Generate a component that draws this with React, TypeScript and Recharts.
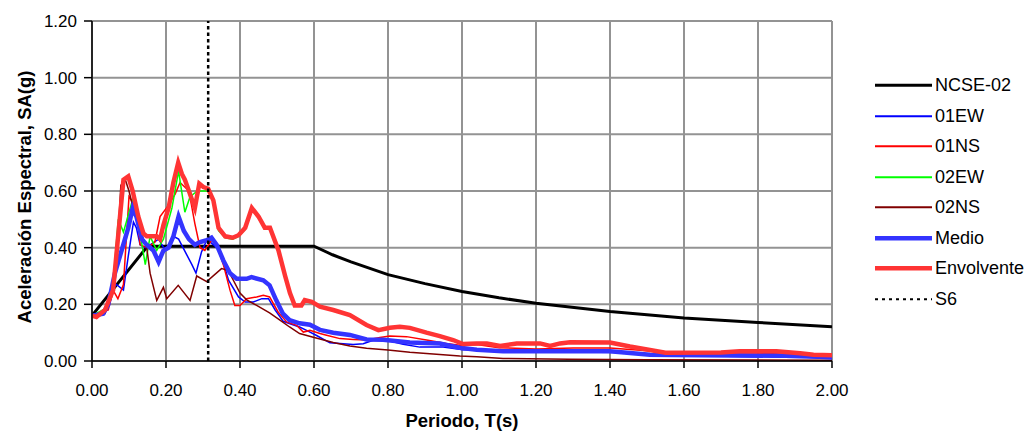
import React from 'react';
import { LineChart, Line, XAxis, YAxis, CartesianGrid } from 'recharts';

// periods (s) and spectral accelerations (g)
const ncseT = [0, 0.15, 0.6, 0.65, 0.7, 0.8, 0.9, 1.0, 1.1, 1.2, 1.4, 1.6, 1.8, 2.0];
const ncseSA = [0.16, 0.405, 0.405, 0.375, 0.35, 0.305, 0.273, 0.245, 0.223, 0.204, 0.175, 0.152, 0.136, 0.121];

const ew01T = [0, 0.035, 0.053, 0.066, 0.085, 0.098, 0.112, 0.12, 0.13, 0.144, 0.157, 0.18, 0.198, 0.22, 0.234, 0.252, 0.27, 0.281, 0.296, 0.31, 0.319, 0.346, 0.369, 0.396, 0.414, 0.436, 0.459, 0.477, 0.495, 0.517, 0.539, 0.561, 0.58, 0.607, 0.643, 0.706, 0.733, 0.76, 0.797, 0.841, 0.886, 0.949, 1.003, 1.066, 1.29, 1.45, 1.55, 1.8, 2.0];
const ew01SA = [0.16, 0.167, 0.25, 0.27, 0.25, 0.37, 0.49, 0.47, 0.41, 0.4, 0.41, 0.43, 0.39, 0.44, 0.43, 0.385, 0.34, 0.31, 0.385, 0.426, 0.42, 0.39, 0.285, 0.226, 0.208, 0.208, 0.22, 0.22, 0.18, 0.14, 0.13, 0.12, 0.108, 0.09, 0.064, 0.058, 0.061, 0.073, 0.073, 0.059, 0.049, 0.049, 0.04, 0.038, 0.032, 0.03, 0.02, 0.015, 0.01];

const ns01T = [0, 0.044, 0.057, 0.07, 0.085, 0.1, 0.12, 0.13, 0.15, 0.17, 0.184, 0.207, 0.225, 0.238, 0.262, 0.278, 0.292, 0.305, 0.323, 0.337, 0.355, 0.373, 0.386, 0.4, 0.418, 0.445, 0.463, 0.48, 0.503, 0.526, 0.553, 0.571, 0.589, 0.616, 0.634, 0.67, 0.706, 0.742, 0.778, 0.805, 0.85, 0.904, 0.958, 0.994, 1.04, 1.1, 1.2, 1.3, 1.4, 1.5, 1.6, 1.8, 1.9, 2.0];
const ns01SA = [0.16, 0.18, 0.25, 0.22, 0.27, 0.58, 0.54, 0.41, 0.4, 0.42, 0.51, 0.55, 0.59, 0.63, 0.6, 0.485, 0.4, 0.39, 0.426, 0.41, 0.34, 0.25, 0.196, 0.196, 0.22, 0.226, 0.232, 0.226, 0.173, 0.138, 0.126, 0.102, 0.108, 0.097, 0.091, 0.079, 0.076, 0.074, 0.083, 0.088, 0.086, 0.074, 0.062, 0.056, 0.058, 0.047, 0.042, 0.046, 0.046, 0.036, 0.028, 0.028, 0.022, 0.018];

const ew02T = [0, 0.044, 0.057, 0.071, 0.085, 0.112, 0.125, 0.144, 0.157, 0.175, 0.193, 0.216, 0.234, 0.251, 0.265, 0.285, 0.3, 0.314, 0.328, 0.342, 0.36, 0.38, 0.396, 0.414, 0.432, 0.45, 0.467, 0.481, 0.504, 0.522, 0.535, 0.548, 0.566, 0.575, 0.594, 0.616, 0.652, 0.697, 0.742, 0.774, 0.805, 0.832, 0.859, 0.904, 0.94, 0.976, 1.003, 1.04, 1.067, 1.103, 1.148, 1.211, 1.238, 1.265, 1.292, 1.4, 1.454, 1.508, 1.55, 1.7, 1.75, 1.85, 1.914, 1.95, 2.0];
const ew02SA = [0.16, 0.19, 0.27, 0.5, 0.455, 0.58, 0.49, 0.34, 0.44, 0.39, 0.43, 0.54, 0.67, 0.525, 0.58, 0.6, 0.6, 0.6, 0.56, 0.46, 0.435, 0.43, 0.44, 0.465, 0.535, 0.505, 0.465, 0.465, 0.385, 0.295, 0.235, 0.193, 0.193, 0.21, 0.205, 0.19, 0.178, 0.16, 0.125, 0.107, 0.115, 0.119, 0.115, 0.098, 0.086, 0.072, 0.058, 0.06, 0.06, 0.051, 0.06, 0.06, 0.051, 0.06, 0.064, 0.063, 0.049, 0.037, 0.027, 0.028, 0.032, 0.032, 0.025, 0.02, 0.018];

const ns02T = [0, 0.035, 0.053, 0.066, 0.078, 0.09, 0.1, 0.115, 0.13, 0.148, 0.157, 0.175, 0.193, 0.202, 0.233, 0.265, 0.283, 0.31, 0.35, 0.368, 0.382, 0.4, 0.418, 0.445, 0.48, 0.508, 0.534, 0.561, 0.598, 0.652, 0.697, 0.742, 0.8, 0.859, 0.922, 0.994, 1.04, 1.111, 1.29, 1.5, 2.0];
const ns02SA = [0.16, 0.167, 0.226, 0.33, 0.62, 0.64, 0.6, 0.52, 0.46, 0.4, 0.31, 0.214, 0.26, 0.22, 0.267, 0.214, 0.3, 0.28, 0.326, 0.32, 0.285, 0.24, 0.216, 0.196, 0.17, 0.144, 0.12, 0.097, 0.084, 0.065, 0.053, 0.045, 0.039, 0.031, 0.025, 0.018, 0.015, 0.009, 0.006, 0.004, 0.003];

const medioT = [0, 0.03, 0.044, 0.062, 0.08, 0.098, 0.11, 0.12, 0.135, 0.148, 0.166, 0.18, 0.193, 0.207, 0.22, 0.234, 0.248, 0.262, 0.278, 0.292, 0.31, 0.323, 0.337, 0.355, 0.373, 0.391, 0.418, 0.431, 0.463, 0.48, 0.498, 0.516, 0.534, 0.561, 0.589, 0.616, 0.652, 0.697, 0.742, 0.787, 0.859, 0.94, 0.994, 1.04, 1.111, 1.4, 1.454, 1.508, 1.571, 1.932, 2.0];
const medioSA = [0.16, 0.167, 0.2, 0.31, 0.39, 0.47, 0.54, 0.51, 0.43, 0.41, 0.39, 0.35, 0.39, 0.4, 0.44, 0.51, 0.46, 0.43, 0.41, 0.42, 0.426, 0.435, 0.41, 0.355, 0.31, 0.29, 0.29, 0.296, 0.285, 0.267, 0.214, 0.167, 0.144, 0.133, 0.128, 0.11, 0.1, 0.092, 0.076, 0.075, 0.065, 0.062, 0.047, 0.04, 0.034, 0.034, 0.028, 0.022, 0.021, 0.018, 0.012];

const envT = [0, 0.012, 0.035, 0.057, 0.085, 0.098, 0.11, 0.125, 0.139, 0.148, 0.175, 0.184, 0.193, 0.207, 0.22, 0.233, 0.243, 0.251, 0.262, 0.278, 0.29, 0.301, 0.314, 0.328, 0.342, 0.36, 0.38, 0.396, 0.414, 0.432, 0.45, 0.467, 0.481, 0.504, 0.522, 0.535, 0.548, 0.566, 0.575, 0.594, 0.616, 0.652, 0.697, 0.742, 0.774, 0.805, 0.832, 0.859, 0.904, 0.94, 0.976, 1.003, 1.04, 1.067, 1.103, 1.148, 1.211, 1.238, 1.265, 1.292, 1.4, 1.454, 1.508, 1.55, 1.7, 1.75, 1.85, 1.914, 1.95, 2.0];
const envSA = [0.16, 0.155, 0.18, 0.25, 0.64, 0.652, 0.6, 0.51, 0.45, 0.44, 0.44, 0.43, 0.48, 0.54, 0.63, 0.7, 0.66, 0.64, 0.6, 0.54, 0.626, 0.614, 0.608, 0.567, 0.47, 0.44, 0.435, 0.444, 0.47, 0.54, 0.51, 0.47, 0.47, 0.39, 0.3, 0.24, 0.196, 0.196, 0.215, 0.209, 0.192, 0.18, 0.162, 0.127, 0.109, 0.117, 0.121, 0.117, 0.1, 0.088, 0.074, 0.06, 0.062, 0.062, 0.053, 0.062, 0.062, 0.053, 0.062, 0.066, 0.065, 0.051, 0.039, 0.029, 0.03, 0.034, 0.034, 0.027, 0.022, 0.02];

const s6T = [0.314, 0.314];
const s6SA = [0, 1.2];

const xTicks = [0, 0.2, 0.4, 0.6, 0.8, 1.0, 1.2, 1.4, 1.6, 1.8, 2.0];
const yTicks = [0, 0.2, 0.4, 0.6, 0.8, 1.0, 1.2];

const FONT = '"Liberation Sans", Arial, sans-serif';

const zip = (t: number[], sa: number[]) => t.map((T, i) => ({ T, sa: sa[i] }));

const series = [
  { name: 'NCSE-02', data: zip(ncseT, ncseSA), color: '#000000', width: 3, legendWidth: 3 },
  { name: '01EW', data: zip(ew01T, ew01SA), color: '#0000ff', width: 1.5, legendWidth: 2 },
  { name: '01NS', data: zip(ns01T, ns01SA), color: '#ff0000', width: 1.5, legendWidth: 2 },
  { name: '02EW', data: zip(ew02T, ew02SA), color: '#00ff00', width: 1.5, legendWidth: 2 },
  { name: '02NS', data: zip(ns02T, ns02SA), color: '#800000', width: 1.5, legendWidth: 2 },
  { name: 'Medio', data: zip(medioT, medioSA), color: '#3434ff', width: 4.5, legendWidth: 4.5 },
  { name: 'Envolvente', data: zip(envT, envSA), color: '#ff3434', width: 4.5, legendWidth: 4.5 },
  { name: 'S6', data: zip(s6T, s6SA), color: '#000000', width: 2.5, legendWidth: 2, dash: '3.5 3', legendDash: '3 4' },
];

function ChartLegend() {
  return (
    <div style={{ position: 'absolute', left: 870, top: 70, fontFamily: FONT, fontSize: 18 }}>
      {series.map((s) => (
        <div key={s.name} style={{ display: 'flex', alignItems: 'center', height: 30.5 }}>
          <svg width={64} height={30.5}>
            <line
              x1={5}
              x2={62}
              y1={15.25}
              y2={15.25}
              stroke={s.color}
              strokeWidth={s.legendWidth}
              strokeDasharray={s.legendDash}
            />
          </svg>
          <span style={{ marginLeft: 1, lineHeight: 1 }}>{s.name}</span>
        </div>
      ))}
    </div>
  );
}

export default function App() {
  return (
    <div style={{ position: 'absolute', left: 0, top: 0, width: 1030, height: 435, background: '#fff' }}>
      <LineChart width={1030} height={435} margin={{ top: 21, right: 198, bottom: 0, left: 0 }}>
        <CartesianGrid stroke="#939393" strokeWidth={2} />
        <XAxis
          dataKey="T"
          type="number"
          domain={[0, 2]}
          ticks={xTicks}
          tickFormatter={(v) => v.toFixed(2)}
          height={74}
          tickSize={7}
          tickMargin={16}
          tick={{ fontSize: 17, fill: '#000', fontFamily: FONT }}
          axisLine={{ stroke: '#000', strokeWidth: 1.5 }}
          tickLine={{ stroke: '#000', strokeWidth: 1.5 }}
          allowDataOverflow
        />
        <YAxis
          type="number"
          domain={[0, 1.2]}
          ticks={yTicks}
          tickFormatter={(v) => v.toFixed(2)}
          width={92}
          tickSize={8}
          tickMargin={7}
          tick={{ fontSize: 17, fill: '#000', fontFamily: FONT }}
          axisLine={{ stroke: '#000', strokeWidth: 1.5 }}
          tickLine={{ stroke: '#000', strokeWidth: 1.5 }}
          allowDataOverflow
        />
        {series.map((s) => (
          <Line
            key={s.name}
            name={s.name}
            data={s.data}
            dataKey="sa"
            type="linear"
            stroke={s.color}
            strokeWidth={s.width}
            strokeDasharray={s.dash}
            dot={false}
            activeDot={false}
            isAnimationActive={false}
          />
        ))}
      </LineChart>
      <ChartLegend />
      <div
        style={{
          position: 'absolute',
          left: 25,
          top: 197,
          transform: 'translate(-50%, -50%) rotate(-90deg)',
          whiteSpace: 'nowrap',
          fontFamily: FONT,
          fontWeight: 'bold',
          fontSize: 18.5,
        }}
      >
        Aceleración Espectral, SA(g)
      </div>
      <div
        style={{
          position: 'absolute',
          left: 462,
          top: 421,
          transform: 'translate(-50%, -50%)',
          whiteSpace: 'nowrap',
          fontFamily: FONT,
          fontWeight: 'bold',
          fontSize: 18.5,
        }}
      >
        Periodo, T(s)
      </div>
    </div>
  );
}
